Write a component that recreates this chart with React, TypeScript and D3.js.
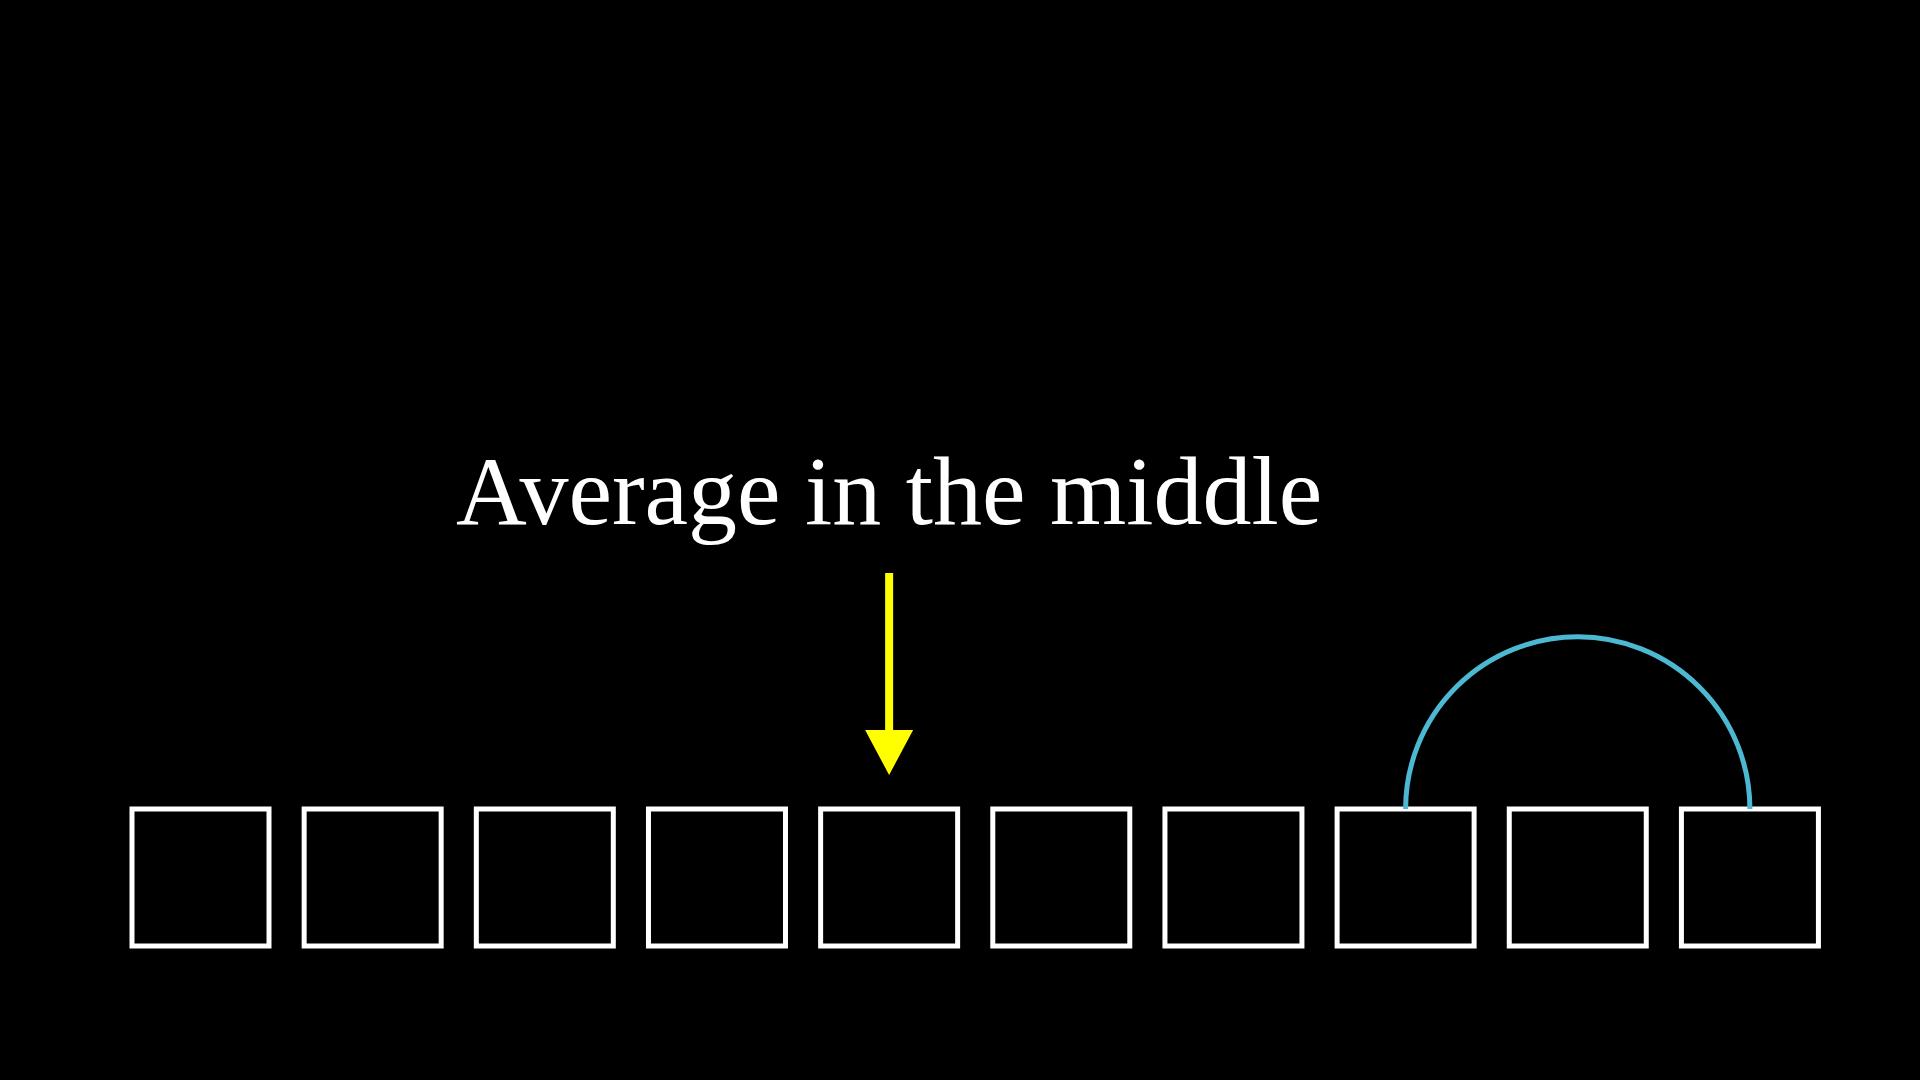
import React from 'react';
import * as d3 from 'd3';

const cells = d3.range(10).map(i => `cell${i}`);
const title = 'Average in the middle';
const pointerIndex = 4;
const arcFrom = 7;
const arcTo = 9;

function App() {
    const WIDTH = 1920;
    const HEIGHT = 1080;

    const x = d3.scaleBand<string>().domain(cells).range([132, 132 + 169 * 10]).paddingInner(31 / 169).paddingOuter(0);
    // the range ends one gap late, so size the band from the step
    const size = 137;
    const top = 809;
    const cx = (i: number) => (x(cells[i]) as number) + size / 2;

    const px = cx(pointerIndex);
    const a0 = cx(arcFrom);
    const a1 = cx(arcTo);
    const r = (a1 - a0) / 2;
    const arcPath = d3.path();
    arcPath.arc((a0 + a1) / 2, top, r, Math.PI, 0);

    return (
        <svg width={WIDTH} height={HEIGHT} style={{ position: 'fixed', left: 0, top: 0, background: '#000' }}>
            <rect width={WIDTH} height={HEIGHT} fill="#000" />
            <text x={px} y={524} textAnchor="middle" fill="#fff" fontFamily="'Liberation Serif', 'DejaVu Serif', serif" fontSize={98}>
                {title}
            </text>
            <line x1={px} x2={px} y1={573} y2={735} stroke="#ffff00" strokeWidth={8} />
            <path d={`M${px - 24},730 L${px + 24},730 L${px},775 Z`} fill="#ffff00" />
            {cells.map(c => (
                <rect key={c} x={x(c)} y={top} width={size} height={size} fill="none" stroke="#fff" strokeWidth={5} />
            ))}
            <path d={arcPath.toString()} fill="none" stroke="#4cb8d2" strokeWidth={5} />
        </svg>
    );
}

export default App;
